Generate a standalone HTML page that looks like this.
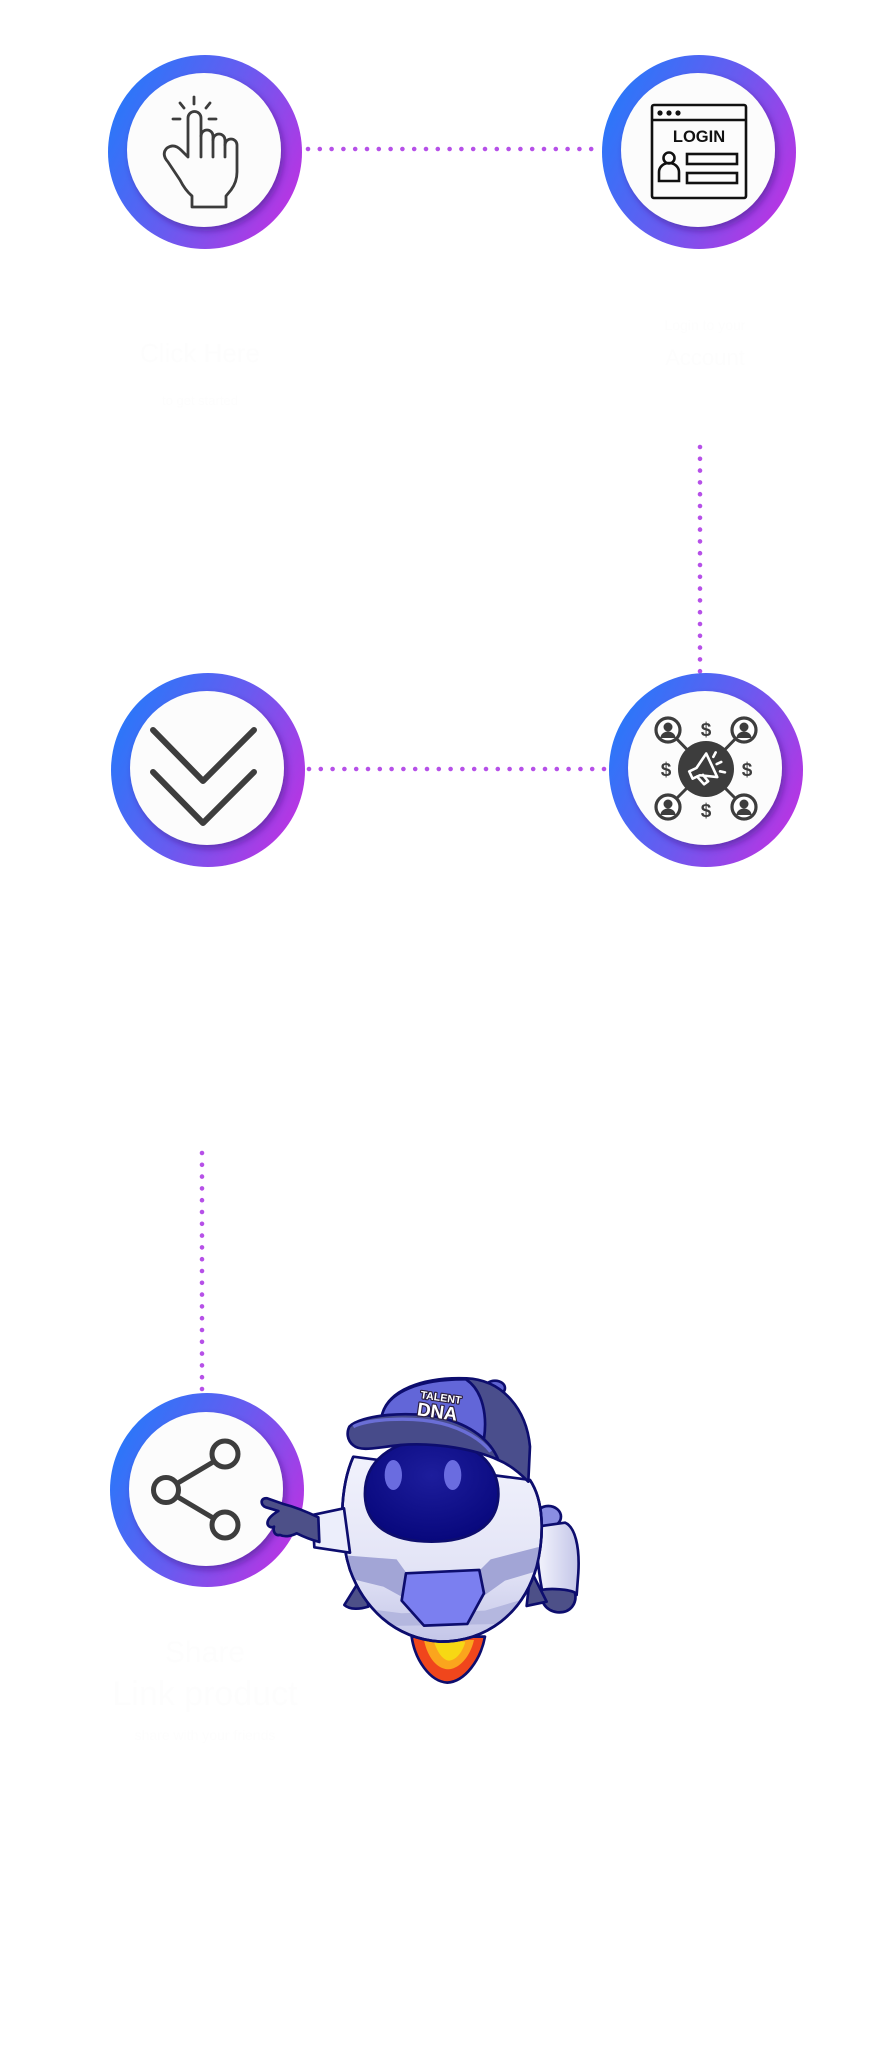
<!DOCTYPE html>
<html>
<head>
<meta charset="utf-8">
<style>
  html,body{margin:0;padding:0;background:#ffffff;}
  body{width:891px;height:2048px;overflow:hidden;position:relative;font-family:"Liberation Sans",sans-serif;}
  svg{position:absolute;left:0;top:0;}
</style>
</head>
<body>
<svg width="891" height="2048" viewBox="0 0 891 2048" xmlns="http://www.w3.org/2000/svg">
  <defs>
    <linearGradient id="ringG" x1="0" y1="0.25" x2="1" y2="0.75">
      <stop offset="0" stop-color="#2679fa"/>
      <stop offset="0.5" stop-color="#685bf0"/>
      <stop offset="1" stop-color="#bd32e2"/>
    </linearGradient>
    <filter id="sh" x="-30%" y="-30%" width="160%" height="160%">
      <feDropShadow dx="3" dy="4" stdDeviation="3.5" flood-color="#3d1580" flood-opacity="0.5"/>
    </filter>
    <linearGradient id="bodyG" x1="0" y1="0" x2="0" y2="1">
      <stop offset="0" stop-color="#f1f2fc"/>
      <stop offset="0.6" stop-color="#e3e4f6"/>
      <stop offset="1" stop-color="#c4c6e8"/>
    </linearGradient>
    <linearGradient id="armG" x1="0" y1="0" x2="1" y2="0">
      <stop offset="0" stop-color="#f4f5fd"/>
      <stop offset="1" stop-color="#c3c5e8"/>
    </linearGradient>
    <radialGradient id="visorG" cx="0.5" cy="0.35" r="0.7">
      <stop offset="0" stop-color="#1d1d9c"/>
      <stop offset="1" stop-color="#06067a"/>
    </radialGradient>
    <clipPath id="bodyClip">
      <path d="M 310 290 C 270 380, 265 520, 300 630 C 340 740, 430 835, 570 845 C 710 845, 820 760, 860 620 C 885 520, 880 420, 840 360 Z"/>
    </clipPath>
  </defs>

  <!-- faint near-white text -->
  <g fill="#fdfdfd" font-family="Liberation Sans, sans-serif">
    <text x="200" y="362" font-size="26" text-anchor="middle">Click Here</text>
    <text x="200" y="405" font-size="13" text-anchor="middle">to get started</text>
    <text x="705" y="330" font-size="14" text-anchor="middle">Login to your</text>
    <text x="705" y="365" font-size="22" text-anchor="middle">Account</text>
    <text x="205" y="1662" font-size="30" text-anchor="middle">Share</text>
    <text x="205" y="1705" font-size="34" text-anchor="middle">Link product</text>
    <text x="205" y="1740" font-size="14" text-anchor="middle">share with your friends</text>
  </g>

  <!-- dotted connectors -->
  <g stroke="#b650e8" stroke-width="4.6" stroke-linecap="round" stroke-dasharray="0 11.8" fill="none">
    <line x1="308" y1="149" x2="600" y2="149"/>
    <line x1="700" y1="447" x2="700" y2="672"/>
    <line x1="309" y1="769" x2="610" y2="769"/>
    <line x1="202" y1="1153" x2="202" y2="1392"/>
  </g>

  <!-- rings -->
  <g>
    <circle cx="205" cy="152" r="97" fill="url(#ringG)"/>
    <circle cx="204" cy="150" r="77" fill="#fcfcfc" filter="url(#sh)"/>
    <circle cx="699" cy="152" r="97" fill="url(#ringG)"/>
    <circle cx="698" cy="150" r="77" fill="#fcfcfc" filter="url(#sh)"/>
    <circle cx="208" cy="770" r="97" fill="url(#ringG)"/>
    <circle cx="207" cy="768" r="77" fill="#fcfcfc" filter="url(#sh)"/>
    <circle cx="706" cy="770" r="97" fill="url(#ringG)"/>
    <circle cx="705" cy="768" r="77" fill="#fcfcfc" filter="url(#sh)"/>
    <circle cx="207" cy="1490" r="97" fill="url(#ringG)"/>
    <circle cx="206" cy="1489" r="77" fill="#fcfcfc" filter="url(#sh)"/>
  </g>

  <!-- hand icon -->
  <g stroke="#3c3c3c" stroke-width="2.8" fill="none" stroke-linecap="round" stroke-linejoin="round">
    <line x1="194" y1="97" x2="194" y2="104"/>
    <line x1="180" y1="103" x2="184" y2="108"/>
    <line x1="210" y1="103" x2="206" y2="108"/>
    <line x1="173" y1="119" x2="180" y2="119"/>
    <line x1="209" y1="119" x2="216" y2="119"/>
    <path d="M 188 156 L 188 118 A 6.5 6.5 0 0 1 201 118 L 201 136 A 6 6 0 0 1 213 136 L 213 140 A 6 6 0 0 1 225 140 L 225 145 A 6 6 0 0 1 237 145 L 237 172 Q 237 182 231 190 L 226 196 L 226 207 L 192 207 L 192 196 Q 185 190 180 180 L 168 162 Q 161 154 167 148 Q 174 143 181 150 L 188 157"/>
    <line x1="201" y1="136" x2="201" y2="157"/>
    <line x1="213" y1="140" x2="213" y2="157"/>
    <line x1="225" y1="145" x2="225" y2="157"/>
  </g>

  <!-- login icon -->
  <g stroke="#111" stroke-width="2.6" fill="none">
    <rect x="652" y="105" width="94" height="93" rx="2"/>
    <line x1="652" y1="120" x2="746" y2="120"/>
    <rect x="687" y="154" width="50" height="10"/>
    <rect x="687" y="173" width="50" height="10"/>
    <circle cx="669" cy="158" r="5.5"/>
    <path d="M 659 181 L 659 172 A 10 9 0 0 1 679 172 L 679 181 Z"/>
  </g>
  <g fill="#111">
    <circle cx="660" cy="113" r="2.6"/>
    <circle cx="669" cy="113" r="2.6"/>
    <circle cx="678" cy="113" r="2.6"/>
    <text x="699" y="142" font-family="Liberation Sans, sans-serif" font-weight="bold" font-size="16.5" text-anchor="middle">LOGIN</text>
  </g>

  <!-- chevrons -->
  <g stroke="#3d3d3d" stroke-width="6" fill="none" stroke-linecap="round" stroke-linejoin="round">
    <polyline points="153,730 203,781 254,730"/>
    <polyline points="153,772 203,823 254,772"/>
  </g>

  <!-- network / megaphone icon -->
  <g stroke="#3d3d3d" stroke-width="3">
    <line x1="706" y1="769" x2="668" y2="730"/>
    <line x1="706" y1="769" x2="744" y2="730"/>
    <line x1="706" y1="769" x2="668" y2="807"/>
    <line x1="706" y1="769" x2="744" y2="807"/>
  </g>
  <circle cx="706" cy="769" r="28" fill="#3d3d3d"/>
  <g transform="translate(704,770) rotate(-25)" stroke="#fff" stroke-width="2.6" fill="none" stroke-linejoin="round" stroke-linecap="round">
    <path d="M -14 -5 L -6 -5 L 9 -14 L 9 12 L -6 3 L -14 3 Z"/>
    <path d="M -9 3 L -6 13 L -1 12 L -3 4"/>
    <line x1="14" y1="-8" x2="18" y2="-11"/>
    <line x1="14" y1="0" x2="19" y2="0"/>
    <line x1="14" y1="8" x2="18" y2="11"/>
  </g>
  <g>
    <g transform="translate(668,730)">
      <circle r="12" fill="#fff" stroke="#3d3d3d" stroke-width="3.2"/>
      <circle cx="0" cy="-3" r="4.5" fill="#3d3d3d"/>
      <path d="M -7.5 8 A 7.5 6.5 0 0 1 7.5 8 Z" fill="#3d3d3d"/>
    </g>
    <g transform="translate(744,730)">
      <circle r="12" fill="#fff" stroke="#3d3d3d" stroke-width="3.2"/>
      <circle cx="0" cy="-3" r="4.5" fill="#3d3d3d"/>
      <path d="M -7.5 8 A 7.5 6.5 0 0 1 7.5 8 Z" fill="#3d3d3d"/>
    </g>
    <g transform="translate(668,807)">
      <circle r="12" fill="#fff" stroke="#3d3d3d" stroke-width="3.2"/>
      <circle cx="0" cy="-3" r="4.5" fill="#3d3d3d"/>
      <path d="M -7.5 8 A 7.5 6.5 0 0 1 7.5 8 Z" fill="#3d3d3d"/>
    </g>
    <g transform="translate(744,807)">
      <circle r="12" fill="#fff" stroke="#3d3d3d" stroke-width="3.2"/>
      <circle cx="0" cy="-3" r="4.5" fill="#3d3d3d"/>
      <path d="M -7.5 8 A 7.5 6.5 0 0 1 7.5 8 Z" fill="#3d3d3d"/>
    </g>
  </g>
  <g fill="#3d3d3d" font-family="Liberation Sans, sans-serif" font-weight="bold" font-size="19" text-anchor="middle">
    <text x="706" y="736">$</text>
    <text x="706" y="817">$</text>
    <text x="666" y="776">$</text>
    <text x="747" y="776">$</text>
  </g>

  <!-- share icon -->
  <g stroke="#3d3d3d" stroke-width="5" fill="none">
    <line x1="166" y1="1490" x2="225" y2="1455"/>
    <line x1="166" y1="1490" x2="225" y2="1525"/>
    <circle cx="166" cy="1490" r="12.5" fill="#fcfcfc"/>
    <circle cx="225" cy="1454" r="13" fill="#fcfcfc"/>
    <circle cx="225" cy="1525" r="13" fill="#fcfcfc"/>
  </g>

  <!-- robot mascot -->
  <g transform="translate(250,1360) scale(0.3333)" stroke="#0d0d6e" stroke-width="8" stroke-linejoin="round">
    <!-- flame -->
    <path d="M 485 830 C 495 900, 540 965, 592 968 C 645 965, 692 900, 705 830 Z" fill="#f0461c"/>
    <path d="M 522 840 C 532 890, 560 928, 596 928 C 632 925, 662 885, 672 840 Z" fill="#fba51d" stroke="none"/>
    <path d="M 552 845 C 562 878, 580 902, 598 902 C 620 900, 640 872, 646 845 Z" fill="#f7d814" stroke="none"/>
    <!-- right arm -->
    <ellipse cx="895" cy="470" rx="38" ry="32" fill="#8a8ee2"/>
    <path d="M 860 500 L 945 488 C 975 500, 990 560, 985 640 L 980 705 L 880 708 C 865 640, 858 560, 860 500 Z" fill="url(#armG)"/>
    <path d="M 875 690 C 868 722, 886 752, 922 757 C 962 760, 982 730, 975 698 C 958 688, 902 684, 875 690 Z" fill="#4d5088"/>
    <!-- fins -->
    <path d="M 345 635 L 283 735 C 300 750, 330 748, 355 740 Z" fill="#4d5088"/>
    <path d="M 842 630 L 890 725 L 830 738 Z" fill="#4d5088"/>
    <!-- body -->
    <path d="M 310 290 C 270 380, 265 520, 300 630 C 340 740, 430 835, 570 845 C 710 845, 820 760, 860 620 C 885 520, 880 420, 840 360 Z" fill="url(#bodyG)"/>
    <g clip-path="url(#bodyClip)" stroke="none">
      <path d="M 270 585 L 440 598 L 470 640 L 690 630 L 722 598 L 890 555 L 890 625 L 765 662 L 705 705 L 458 712 L 400 680 L 270 648 Z" fill="#a2a5d6"/>
      <path d="M 300 740 L 455 760 L 705 752 L 880 700 L 880 790 L 300 800 Z" fill="#b4b7df"/>
    </g>
    <path d="M 310 290 C 270 380, 265 520, 300 630 C 340 740, 430 835, 570 845 C 710 845, 820 760, 860 620 C 885 520, 880 420, 840 360" fill="none"/>
    <!-- visor -->
    <path d="M 345 410 C 340 300, 430 240, 545 240 C 670 240, 750 310, 745 410 C 740 500, 660 545, 545 545 C 425 545, 350 500, 345 410 Z" fill="url(#visorG)"/>
    <ellipse cx="430" cy="345" rx="26" ry="45" fill="#6a6ce0" stroke="none"/>
    <ellipse cx="608" cy="345" rx="26" ry="45" fill="#6a6ce0" stroke="none"/>
    <!-- chest plate -->
    <path d="M 468 640 L 688 630 L 702 700 L 652 792 L 522 797 L 455 722 Z" fill="#7b7ff0"/>
    <!-- left arm -->
    <path d="M 188 465 L 282 445 L 300 578 L 193 562 Z" fill="#eceefb"/>
    <path d="M 205 472 C 172 456, 132 440, 100 432 L 52 415 C 30 412, 30 436, 48 442 L 85 453 C 70 462, 56 472, 53 485 C 50 498, 62 505, 72 500 C 68 515, 76 528, 90 525 C 102 531, 122 530, 140 520 C 160 530, 185 540, 208 546 Z" fill="#4d5088"/>
    <!-- cap -->
    <ellipse cx="735" cy="84" rx="30" ry="22" fill="#5f63d2"/>
    <path d="M 395 170 C 410 90, 520 50, 650 55 C 760 60, 830 150, 840 260 L 835 365 C 800 330, 770 310, 745 300 C 720 240, 660 195, 580 175 C 520 162, 450 160, 395 170 Z" fill="#4a4e8c"/>
    <path d="M 395 170 C 410 95, 510 57, 648 58 C 700 92, 712 170, 702 236 C 660 202, 605 182, 562 173 C 500 163, 440 163, 395 170 Z" fill="#6266d8"/>
    <path d="M 298 200 C 330 165, 480 150, 580 175 C 660 195, 722 240, 745 300 C 680 270, 560 246, 452 255 C 382 262, 332 276, 310 256 C 290 240, 290 216, 298 200 Z" fill="#474b8a"/>
    <path d="M 310 200 C 350 178, 480 168, 575 190 C 640 206, 695 240, 722 275" fill="none" stroke="#6a6ed6" stroke-width="10"/>
    <g transform="translate(570,135) rotate(8)" font-family="Liberation Sans, sans-serif" font-weight="bold" text-anchor="middle" fill="#ffffff" stroke="#2a1e3e" stroke-width="7" paint-order="stroke">
      <text x="0" y="-12" font-size="32">TALENT</text>
      <text x="-5" y="40" font-size="56">DNA</text>
    </g>
  </g>
</svg>
</body>
</html>
